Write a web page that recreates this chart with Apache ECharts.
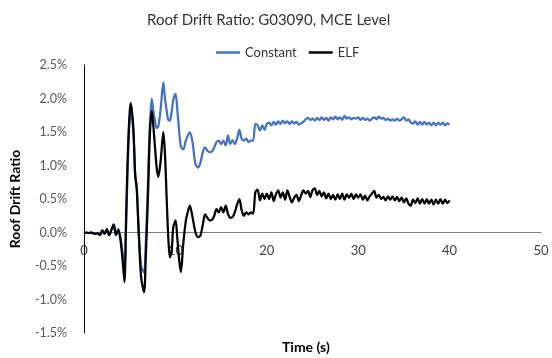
<!DOCTYPE html>
<html>
<head>
<meta charset="utf-8">
<script src="https://cdn.jsdelivr.net/npm/echarts@6/dist/echarts.min.js"></script>
<style>
  html, body { margin: 0; padding: 0; background: #fff; }
  #chart { width: 552px; height: 358px; }
</style>
</head>
<body>
<div id="chart"></div>
<script>
// time (s)
const time = [
  0, 0.25, 0.5, 0.75, 1, 1.25, 1.5, 1.75, 2, 2.25, 2.5, 2.75, 3, 3.25, 3.5, 3.75, 4,
  4.25, 4.43, 4.6, 4.8, 5, 5.12, 5.4, 5.6, 5.77, 6, 6.25, 6.57, 6.75, 7, 7.2, 7.41,
  7.6, 7.77, 7.95, 8.13, 8.39, 8.68, 8.86, 9.04, 9.22, 9.4, 9.59, 9.77, 10.02, 10.2,
  10.42, 10.6, 10.86, 11.15, 11.4, 11.58, 11.87, 12.2,
  12.5, 12.75, 13, 13.25, 13.5, 13.75, 14, 14.25, 14.5, 14.75, 15, 15.25, 15.5, 15.75,
  16, 16.25, 16.5, 16.75, 17, 17.25, 17.5, 17.75, 18, 18.25, 18.5, 18.75, 19, 19.25,
  19.5, 19.75, 20, 20.25, 20.5, 20.75, 21, 21.25, 21.5, 21.75, 22, 22.25, 22.5, 22.75,
  23, 23.25, 23.5, 23.75, 24, 24.25, 24.5, 24.75, 25, 25.25, 25.5, 25.75, 26, 26.25,
  26.5, 26.75, 27, 27.25, 27.5, 27.75, 28, 28.25, 28.5, 28.75, 29, 29.25, 29.5, 29.75,
  30, 30.25, 30.5, 30.75, 31, 31.25, 31.5, 31.75, 32, 32.25, 32.5, 32.75, 33, 33.25,
  33.5, 33.75, 34, 34.25, 34.5, 34.75, 35, 35.25, 35.5, 35.75, 36, 36.25, 36.5, 36.75,
  37, 37.25, 37.5, 37.75, 38, 38.25, 38.5, 38.75, 39, 39.25, 39.5, 39.75, 40
];

// roof drift ratio (%), Constant
const constant = [
  0, 0, -0.01, 0, -0.01, -0.02, -0.01, -0.04, 0.03, -0.02, 0.05, -0.04, 0.04, 0.11, -0.03, 0.05, -0.08,
  -0.35, -0.62, 0.05, 1.05, 1.70, 1.82, 1.50, 0.88, 0.68, 0.00, -0.50, -0.60, -0.20, 0.75, 1.60, 2.00,
  1.80, 1.67, 1.56, 1.58, 1.85, 2.24, 2.00, 1.82, 1.68, 1.67, 1.80, 1.98, 2.07, 1.85,
  1.50, 1.28, 1.24, 1.38, 1.46, 1.50, 1.35, 1.02,
  0.97, 1.05, 1.20, 1.27, 1.22, 1.20, 1.21, 1.27, 1.35, 1.37, 1.32, 1.37, 1.30, 1.45,
  1.32, 1.38, 1.32, 1.40, 1.53, 1.40, 1.37, 1.40, 1.35, 1.37, 1.37, 1.62, 1.60, 1.52,
  1.60, 1.53, 1.62, 1.64, 1.60, 1.65, 1.61, 1.66, 1.62, 1.67, 1.63, 1.66, 1.62, 1.66,
  1.63, 1.65, 1.61, 1.63, 1.65, 1.69, 1.71, 1.68, 1.70, 1.67, 1.71, 1.68, 1.72, 1.68,
  1.71, 1.67, 1.72, 1.69, 1.73, 1.69, 1.72, 1.68, 1.74, 1.70, 1.72, 1.69, 1.71, 1.70,
  1.72, 1.68, 1.71, 1.68, 1.70, 1.67, 1.70, 1.72, 1.69, 1.73, 1.70, 1.71, 1.68, 1.70,
  1.67, 1.69, 1.67, 1.70, 1.67, 1.69, 1.72, 1.67, 1.69, 1.64, 1.63, 1.66, 1.61, 1.65,
  1.61, 1.65, 1.61, 1.64, 1.60, 1.64, 1.60, 1.64, 1.61, 1.64, 1.60, 1.63, 1.61
];

// roof drift ratio (%), ELF
const elf = [
  0, 0, -0.01, 0, -0.01, -0.02, -0.01, -0.04, 0.03, -0.02, 0.05, -0.04, 0.04, 0.12, -0.04, 0.04, -0.12,
  -0.45, -0.74, 0.20, 1.20, 1.80, 1.93, 1.55, 0.85, 0.65, -0.05, -0.67, -0.89, -0.40, 0.55, 1.45, 1.82,
  1.57, 1.27, 0.97, 0.83, 1.07, 1.50, 1.17, 0.53, -0.07, -0.37, -0.27, 0.08, 0.18, -0.07,
  -0.42, -0.59, -0.17, 0.18, 0.33, 0.40, 0.23, 0.00,
  -0.07, -0.04, 0.12, 0.27, 0.22, 0.18, 0.19, 0.25, 0.35, 0.30, 0.38, 0.30, 0.40, 0.28,
  0.22, 0.23, 0.30, 0.42, 0.50, 0.33, 0.25, 0.30, 0.27, 0.30, 0.28, 0.60, 0.64, 0.48,
  0.58, 0.50, 0.58, 0.50, 0.60, 0.47, 0.57, 0.63, 0.52, 0.60, 0.49, 0.63, 0.53, 0.45,
  0.52, 0.56, 0.47, 0.55, 0.63, 0.58, 0.62, 0.53, 0.63, 0.66, 0.56, 0.62, 0.54, 0.60,
  0.51, 0.58, 0.50, 0.56, 0.49, 0.57, 0.50, 0.58, 0.49, 0.57, 0.52, 0.58, 0.50, 0.57,
  0.52, 0.57, 0.49, 0.55, 0.48, 0.54, 0.58, 0.62, 0.52, 0.56, 0.50, 0.53, 0.48, 0.54,
  0.49, 0.54, 0.48, 0.53, 0.47, 0.52, 0.45, 0.51, 0.43, 0.40, 0.49, 0.44, 0.51, 0.43,
  0.50, 0.43, 0.50, 0.43, 0.49, 0.42, 0.49, 0.43, 0.50, 0.43, 0.49, 0.44, 0.48
];

const seriesNames = ['Constant', 'ELF'];
const seriesColors = ['#4472C4', '#000000'];

const font = 'Lato, "Open Sans", sans-serif';
const myChart = echarts.init(document.getElementById('chart'));

const option = {
  animation: false,
  textStyle: { fontFamily: font },
  title: {
    text: 'Roof Drift Ratio: G03090, MCE Level',
    left: 142,
    top: 8,
    textStyle: { fontSize: 15, fontWeight: 'normal', color: '#333', fontFamily: font }
  },
  legend: {
    data: seriesNames.map(name => ({ name, icon: 'rect' })),
    top: 41,
    left: 211,
    itemWidth: 24,
    itemHeight: 2.5,
    itemGap: 12,
    textStyle: { fontSize: 13, color: '#333', fontFamily: font }
  },
  grid: { left: 82, right: 11, top: 65, bottom: 25 },
  xAxis: {
    type: 'value',
    min: 0,
    max: 50,
    interval: 10,
    // place axis line and labels at the 0% level like the spreadsheet chart
    offset: -100.5,
    axisLine: { onZero: false, lineStyle: { color: '#7f7f7f', width: 1 } },
    axisTick: { show: false },
    axisLabel: { color: '#404040', fontSize: 13, margin: 12, fontFamily: font },
    splitLine: { show: false }
  },
  yAxis: {
    type: 'value',
    min: -1.5,
    max: 2.5,
    interval: 0.5,
    name: 'Roof Drift Ratio',
    nameLocation: 'middle',
    nameRotate: 90,
    nameGap: 62,
    nameTextStyle: { fontSize: 14, fontWeight: 'bold', color: '#000', fontFamily: font },
    axisLine: { show: true, onZero: false, lineStyle: { color: '#000', width: 1 } },
    axisTick: { show: false },
    axisLabel: {
      color: '#595959', fontSize: 12.5, margin: 17, fontFamily: font,
      formatter: v => v.toFixed(1) + '%'
    },
    splitLine: { show: false }
  },
  graphic: [{
    type: 'text',
    left: 282,
    top: 340,
    style: { text: 'Time (s)', font: 'bold 14px ' + font, fill: '#000' }
  }],
  series: [
    {
      name: seriesNames[0],
      type: 'line',
      symbol: 'none',
      smooth: 0.3,
      data: time.map((t, i) => [t, constant[i]]),
      lineStyle: { color: seriesColors[0], width: 2.25 },
      itemStyle: { color: seriesColors[0] }
    },
    {
      name: seriesNames[1],
      type: 'line',
      symbol: 'none',
      smooth: 0.3,
      data: time.map((t, i) => [t, elf[i]]),
      lineStyle: { color: seriesColors[1], width: 2.25 },
      itemStyle: { color: seriesColors[1] }
    }
  ]
};

option && myChart.setOption(option);
</script>
</body>
</html>
